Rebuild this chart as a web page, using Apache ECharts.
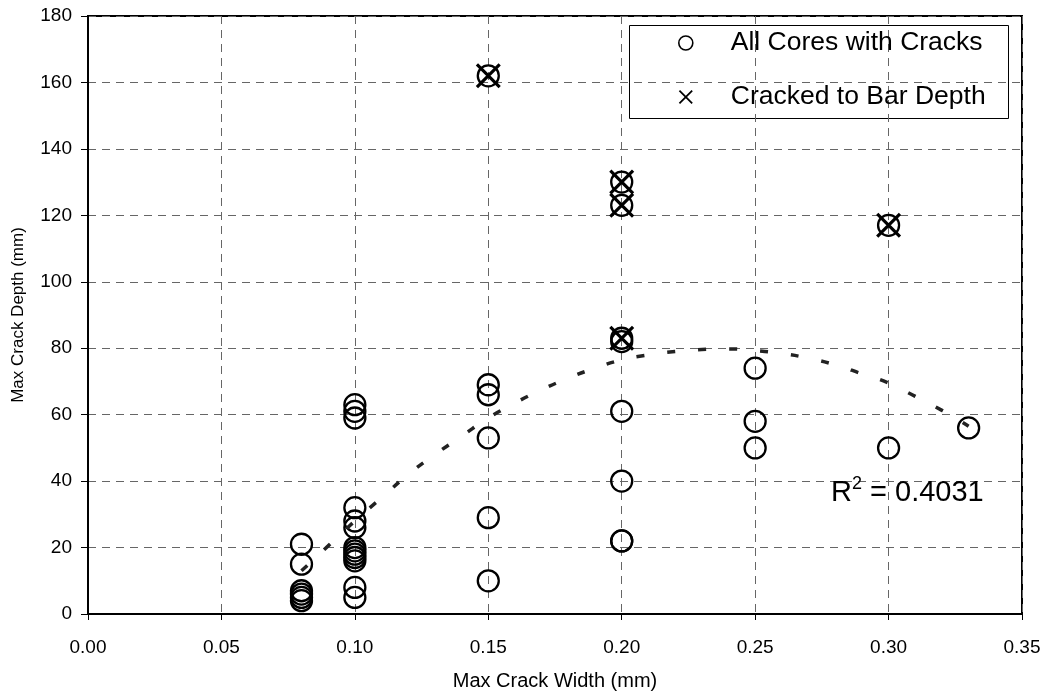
<!DOCTYPE html>
<html>
<head>
<meta charset="utf-8">
<script src="https://cdn.jsdelivr.net/npm/echarts@6/dist/echarts.min.js"></script>
<style>
  html, body { margin: 0; padding: 0; background: #fff; }
  #chart { width: 1045px; height: 696px; }
</style>
</head>
<body>
<div id="chart"></div>
<script>
// all cores with cracks: [width, depth]
var coreWidths = [0.08, 0.08, 0.08, 0.08, 0.08, 0.08,
                  0.10, 0.10, 0.10, 0.10, 0.10, 0.10, 0.10, 0.10, 0.10, 0.10, 0.10, 0.10, 0.10,
                  0.15, 0.15, 0.15, 0.15, 0.15, 0.15,
                  0.20, 0.20, 0.20, 0.20, 0.20, 0.20, 0.20, 0.20,
                  0.25, 0.25, 0.25,
                  0.30, 0.30,
                  0.33];
var coreDepths = [21, 15, 7, 6, 5, 4,
                  63, 61, 59, 32, 28, 26, 20, 19, 18, 17, 16, 8, 5,
                  162, 69, 66, 53, 29, 10,
                  130, 123, 83, 82, 61, 40, 22, 22,
                  74, 58, 50,
                  117, 50,
                  56];

// cores cracked down to the bar
var barWidths = [0.15, 0.20, 0.20, 0.20, 0.30];
var barDepths = [162, 130, 123, 83, 117];

// polynomial trend line
var trendX = [0.08, 0.09, 0.10, 0.11, 0.12, 0.13, 0.14, 0.15, 0.16, 0.17, 0.18, 0.19, 0.20,
              0.21, 0.22, 0.23, 0.24, 0.25, 0.26, 0.27, 0.28, 0.29, 0.30, 0.31, 0.32, 0.33];
var trendY = [13, 20.5, 28, 35, 42, 48, 53.5, 59, 63.5, 67.5, 71, 74, 76.5,
              78, 79, 79.6, 79.8, 79.3, 78.4, 77, 75, 72.3, 69.5, 65.5, 61.3, 56.5];

var xTicks = [0, 0.05, 0.10, 0.15, 0.20, 0.25, 0.30, 0.35];
var yTicks = [0, 20, 40, 60, 80, 100, 120, 140, 160, 180];

function pairs(xs, ys) {
  var out = [];
  for (var i = 0; i < xs.length; i++) out.push([xs[i], ys[i]]);
  return out;
}

var font = 'Liberation Sans, Arial, sans-serif';
// filled X so it stays solid black at any size
var crossPath = 'path://M0,0.9L0.9,0L10,9.1L9.1,10Z M9.1,0L10,0.9L0.9,10L0,9.1Z';
var chart = echarts.init(document.getElementById('chart'));

var option = {
  animation: false,
  backgroundColor: '#fff',
  textStyle: { fontFamily: font },
  grid: {
    left: 88, top: 16, width: 934, height: 599,
    show: true, borderColor: '#000', borderWidth: 2, backgroundColor: 'transparent'
  },
  xAxis: {
    type: 'value',
    min: xTicks[0], max: xTicks[xTicks.length - 1], interval: 0.05,
    name: 'Max Crack Width (mm)',
    nameLocation: 'middle', nameGap: 57,
    nameTextStyle: { fontSize: 20, color: '#000', fontFamily: font },
    axisLine: { show: true, onZero: false, lineStyle: { color: '#000', width: 2 } },
    axisTick: { show: true, inside: false, length: 6, lineStyle: { color: '#000' } },
    axisLabel: {
      fontSize: 19, color: '#000', margin: 24, fontFamily: font,
      formatter: function (v) { return v.toFixed(2); }
    },
    splitLine: { show: true, lineStyle: { color: '#666', type: [8, 6], width: 1 } }
  },
  yAxis: {
    type: 'value',
    min: yTicks[0], max: yTicks[yTicks.length - 1], interval: 20,
    name: 'Max Crack Depth (mm)',
    nameLocation: 'middle', nameGap: 61,
    nameTextStyle: { fontSize: 17, color: '#000', fontFamily: font },
    axisLine: { show: true, onZero: false, lineStyle: { color: '#000', width: 2 } },
    axisTick: { show: true, inside: false, length: 7, lineStyle: { color: '#000' } },
    axisLabel: { fontSize: 19, color: '#000', margin: 16, fontFamily: font },
    splitLine: { show: true, lineStyle: { color: '#666', type: [8, 6], width: 1 } }
  },
  legend: {
    left: 678, top: 29,
    orient: 'vertical',
    padding: 0,
    itemGap: 26,
    itemWidth: 14, itemHeight: 14,
    data: [
      { name: 'All Cores with Cracks', itemStyle: { borderWidth: 1.6 } },
      { name: 'Cracked to Bar Depth' }
    ],
    textStyle: { fontSize: 26.5, color: '#000', fontFamily: font, padding: [0, 0, 0, 33], lineHeight: 28 }
  },
  graphic: [
    {
      type: 'rect', left: 629, top: 25, z: 0,
      shape: { width: 379, height: 93 },
      style: { fill: '#fff', stroke: '#000', lineWidth: 1 }
    },
    {
      type: 'text', left: 831, top: 475, z: 10,
      style: {
        text: '{r|R}{s|2}{r| = 0.4031}',
        rich: {
          r: { fontSize: 29, fontFamily: font, fill: '#000', verticalAlign: 'bottom' },
          s: { fontSize: 18, fontFamily: font, fill: '#000', verticalAlign: 'top', padding: [0, 0, 14, 0] }
        }
      }
    }
  ],
  series: [
    {
      name: 'All Cores with Cracks',
      type: 'scatter',
      symbol: 'circle',
      symbolSize: 21,
      itemStyle: { color: 'rgba(0,0,0,0)', borderColor: '#000', borderWidth: 2.3, opacity: 1 },
      data: pairs(coreWidths, coreDepths),
      z: 3
    },
    {
      name: 'Cracked to Bar Depth',
      type: 'scatter',
      symbol: crossPath,
      symbolSize: 25,
      itemStyle: { color: '#000', borderWidth: 0, opacity: 1 },
      data: pairs(barWidths, barDepths),
      z: 4
    },
    {
      name: 'trend',
      type: 'line',
      symbol: 'none',
      smooth: true,
      lineStyle: { color: '#222', width: 3.5, type: [8, 23] },
      data: pairs(trendX, trendY),
      z: 5
    }
  ]
};

chart.setOption(option);
</script>
</body>
</html>
